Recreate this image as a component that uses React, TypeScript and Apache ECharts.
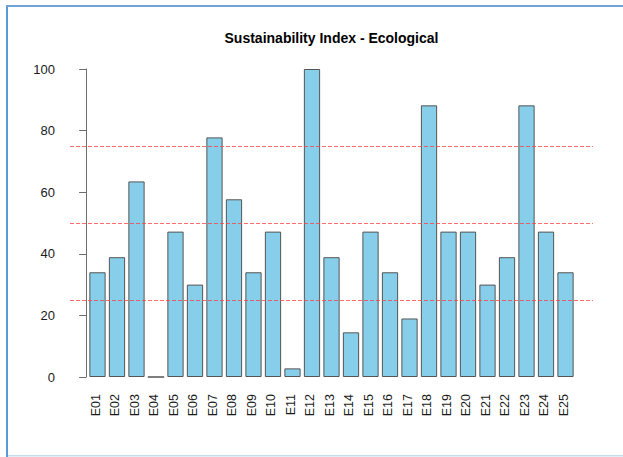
import React, { useEffect, useRef } from "react";
import * as echarts from "echarts";

const categories = [
  "E01", "E02", "E03", "E04", "E05", "E06", "E07", "E08", "E09", "E10",
  "E11", "E12", "E13", "E14", "E15", "E16", "E17", "E18", "E19", "E20",
  "E21", "E22", "E23", "E24", "E25",
];
const values = [
  34.0, 38.9, 63.5, 0, 47.2, 30.0, 77.8, 57.7, 34.0, 47.2,
  2.8, 100, 38.9, 14.5, 47.2, 34.0, 19.0, 88.2, 47.2, 47.2,
  30.0, 38.9, 88.2, 47.2, 34.0,
];
const refLines = [25, 50, 75];
const yTicks = [0, 20, 40, 60, 80, 100];
const title = "Sustainability Index - Ecological";

// R barplot layout: width 1, space 0.2
const barSpace = 0.2;
const barW = 1;
const pitch = barW + barSpace;
const xMinR = barSpace;
const xMaxR = pitch * categories.length;
const ext = (xMaxR - xMinR) * 0.04;
const xMin = xMinR - ext;
const xMax = xMaxR + ext;

const plotLeft = 70;
const plotWidth = 523;
const plotTop = 69;
const plotHeight = 308;
const pxPerUnit = plotWidth / (xMax - xMin);

export default function App() {
  const ref = useRef<HTMLDivElement>(null);
  useEffect(() => {
    if (!ref.current) return;
    const chart = echarts.init(ref.current, null, { renderer: "svg" });
    const catLeft = plotLeft + (0 - xMin) * pxPerUnit;
    const catWidth = xMaxR * pxPerUnit;
    chart.setOption({
      animation: false,
      backgroundColor: "#ffffff",
      textStyle: { fontFamily: "Liberation Sans, Arial, sans-serif" },
      grid: [
        { left: plotLeft, top: plotTop, width: plotWidth, height: plotHeight },
        { left: catLeft, top: plotTop, width: catWidth, height: plotHeight },
      ],
      xAxis: [
        {
          type: "value",
          gridIndex: 0,
          min: xMin,
          max: xMax,
          show: false,
        },
        {
          type: "category",
          gridIndex: 1,
          data: categories,
          boundaryGap: true,
          axisLine: { show: false },
          axisTick: { show: false },
          splitLine: { show: false },
          axisLabel: {
            rotate: 90,
            interval: 0,
            margin: 17,
            fontSize: 12.5,
            color: "#1a1a1a",
            fontFamily: "Liberation Sans, Arial, sans-serif",
          },
        },
      ],
      yAxis: [
        {
          type: "value",
          gridIndex: 0,
          min: 0,
          max: 100,
          interval: 20,
          axisLine: { show: true, lineStyle: { color: "#6e6e6e", width: 1 } },
          axisTick: { show: true, length: 7, lineStyle: { color: "#6e6e6e" } },
          splitLine: { show: false },
          axisLabel: {
            margin: 15,
            fontSize: 13,
            color: "#1a1a1a",
            fontFamily: "Liberation Sans, Arial, sans-serif",
          },
        },
        {
          type: "value",
          gridIndex: 1,
          min: 0,
          max: 100,
          show: false,
        },
      ],
      graphic: [
        {
          type: "text",
          x: plotLeft + plotWidth / 2,
          y: 38,
          style: {
            text: title,
            textAlign: "center",
            textVerticalAlign: "middle",
            fontSize: 14,
            fontWeight: "bold",
            fontFamily: "Liberation Sans, Arial, sans-serif",
            fill: "#000",
          },
        },
        { type: "rect", shape: { x: 6, y: 5, width: 2, height: 452 }, style: { fill: "#5b9bd5" } },
        { type: "rect", shape: { x: 6, y: 5, width: 617, height: 2 }, style: { fill: "#6fa3dc" } },
        { type: "rect", shape: { x: 8, y: 455, width: 615, height: 1.5 }, style: { fill: "#c3dbf0" } },
      ],
      series: [
        {
          type: "bar",
          xAxisIndex: 0,
          yAxisIndex: 0,
          barWidth: barW * pxPerUnit,
          data: values.map((v, i) => [barSpace + barW / 2 + pitch * i, v]),
          itemStyle: {
            color: "#87ceeb",
            borderColor: "#555555",
            borderWidth: 1,
          },
          markLine: {
            silent: true,
            symbol: "none",
            label: { show: false },
            lineStyle: { color: "rgba(255,60,60,0.75)", type: [4, 2], width: 1 },
            data: refLines.map((y) => ({ yAxis: y })),
          },
        },
      ],
    });
    return () => chart.dispose();
  }, []);
  return (
    <div
      ref={ref}
      style={{ position: "absolute", left: 0, top: 0, width: 623, height: 457 }}
    />
  );
}
